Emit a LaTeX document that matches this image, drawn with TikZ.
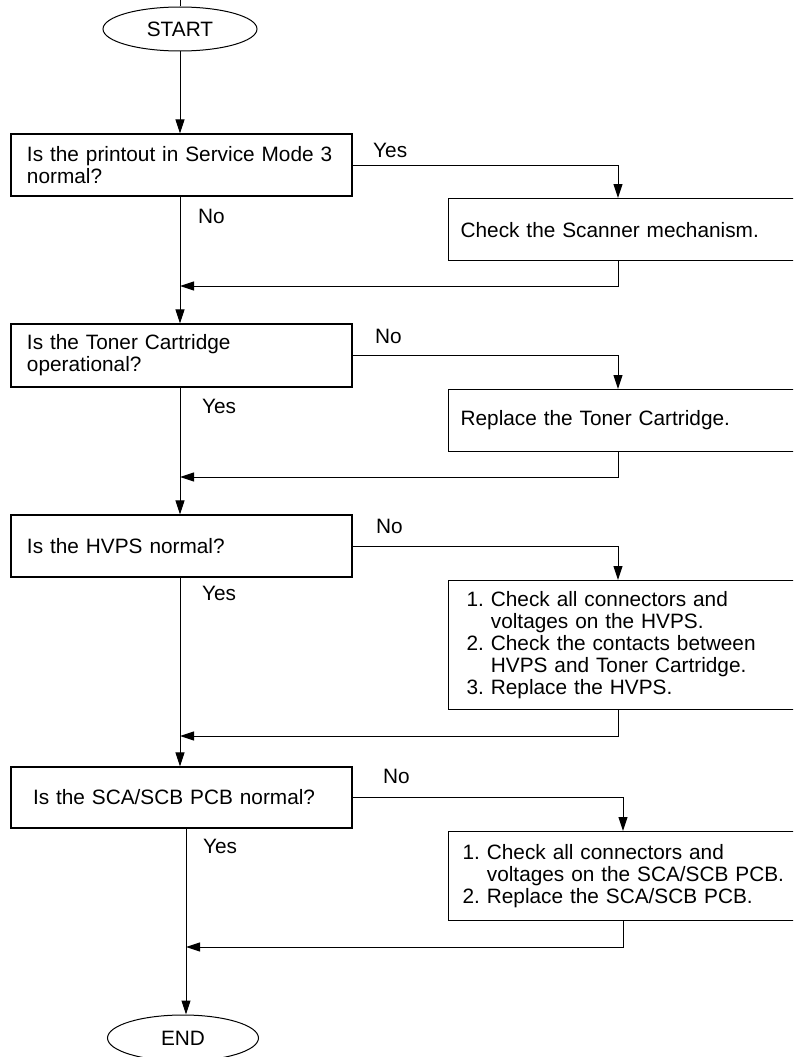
\documentclass[tikz,border=0pt]{standalone}
\usepackage{fontspec}
\setmainfont{Liberation Sans}
\usetikzlibrary{shapes.geometric,arrows.meta}
\begin{document}
\begin{tikzpicture}[x=1pt,y=-1pt,
  every node/.style={font=\fontsize{20.8}{22}\selectfont},
  term/.style={ellipse,draw,line width=1pt,minimum width=154pt,minimum height=44pt,inner sep=0pt},
  qbox/.style={rectangle,draw,line width=1.2pt,minimum width=341pt,minimum height=62pt,
    text width=309pt,align=left,inner xsep=16pt,inner ysep=3pt},
  abox/.style={rectangle,draw,line width=1.2pt,anchor=north west,align=left,inner ysep=3pt},
  lbl/.style={anchor=base west,inner sep=0pt},
  conn/.style={line width=1pt},
  arr/.style={line width=1pt,-{Triangle[length=14pt,width=9pt]}}]
\useasboundingbox (0,0) rectangle (793,1057);
\clip (0,0) rectangle (793,1057);
\fill[white] (0,0) rectangle (793,1057);

% x references
\coordinate (xa) at (180,0);
\coordinate (xb) at (186,0);
\coordinate (xr) at (618,0);
\coordinate (xr2) at (623,0);
\coordinate (top) at (180,0);

% terminals
\node[term] (start) at (180,29) {START};
\node[term,minimum width=151pt,minimum height=46pt] (end) at (183,1038) {END};

% decision boxes
\node[qbox] (b1) at (181.5,165) {Is the printout in Service Mode 3\\normal?};
\node[qbox,minimum height=63pt] (b3) at (181.5,355.5) {Is the Toner Cartridge\\operational?};
\node[qbox] (b5) at (181.5,546) {Is the HVPS normal?};
\node[qbox,inner xsep=22pt,text width=297pt,minimum height=61pt] (b7) at (181.5,797.5) {Is the SCA/SCB PCB normal?};

% action boxes
\node[abox,minimum width=380pt,minimum height=62pt,text width=356pt,inner xsep=12pt] (b2) at (448,198) {Check the Scanner mechanism.};
\node[abox,minimum width=380pt,minimum height=62pt,text width=356pt,inner xsep=12pt] (b4) at (448,389) {Replace the Toner Cartridge.};
\node[abox,minimum width=380pt,minimum height=129pt,text width=344pt,inner xsep=18pt] (b6) at (448,580)
  {1.\ Check all connectors and\\\phantom{1.\ }voltages on the HVPS.\\2.\ Check the contacts between\\\phantom{2.\ }HVPS and Toner Cartridge.\\3.\ Replace the HVPS.};
\node[abox,minimum width=380pt,minimum height=89pt,text width=352pt,inner xsep=14pt] (b8) at (448,831)
  {1.\ Check all connectors and\\\phantom{1.\ }voltages on the SCA/SCB PCB.\\2.\ Replace the SCA/SCB PCB.};

% labels
\node[lbl] (l1) at (373,157) {Yes};
\node[lbl] (l2) at (198,223) {No};
\node[lbl] (l3) at (375,343) {No};
\node[lbl] (l4) at (202,413) {Yes};
\node[lbl] (l5) at (376,533) {No};
\node[lbl] (l6) at (202,600) {Yes};
\node[lbl] (l7) at (383,783) {No};
\node[lbl] (l8) at (203,853) {Yes};

% junctions
\coordinate (j1) at (180,286);
\coordinate (j2) at (180,477);
\coordinate (j3) at (180,736);
\coordinate (j4) at (186,947);

% connectors
\draw[conn] (top) -- (start.north);
\draw[arr] (start.south) -- (start.south |- b1.north);
\draw[arr] (b1.east) -| (xr |- b2.north);
\draw[arr] (b1.south -| xa) -- (b3.north -| xa);
\draw[arr] (b2.south -| xr) |- (j1);

\draw[arr] (b3.east) -| (xr |- b4.north);
\draw[arr] (b3.south -| xa) -- (b5.north -| xa);
\draw[arr] (b4.south -| xr) |- (j2);

\draw[arr] (b5.east) -| (xr |- b6.north);
\draw[arr] (b5.south -| xa) -- (b7.north -| xa);
\draw[arr] (b6.south -| xr) |- (j3);

\draw[arr] (b7.east) -| (xr2 |- b8.north);
\draw[arr] (b7.south -| xb) -- (xb |- end.north);
\draw[arr] (b8.south -| xr2) |- (j4);
\end{tikzpicture}
\end{document}
